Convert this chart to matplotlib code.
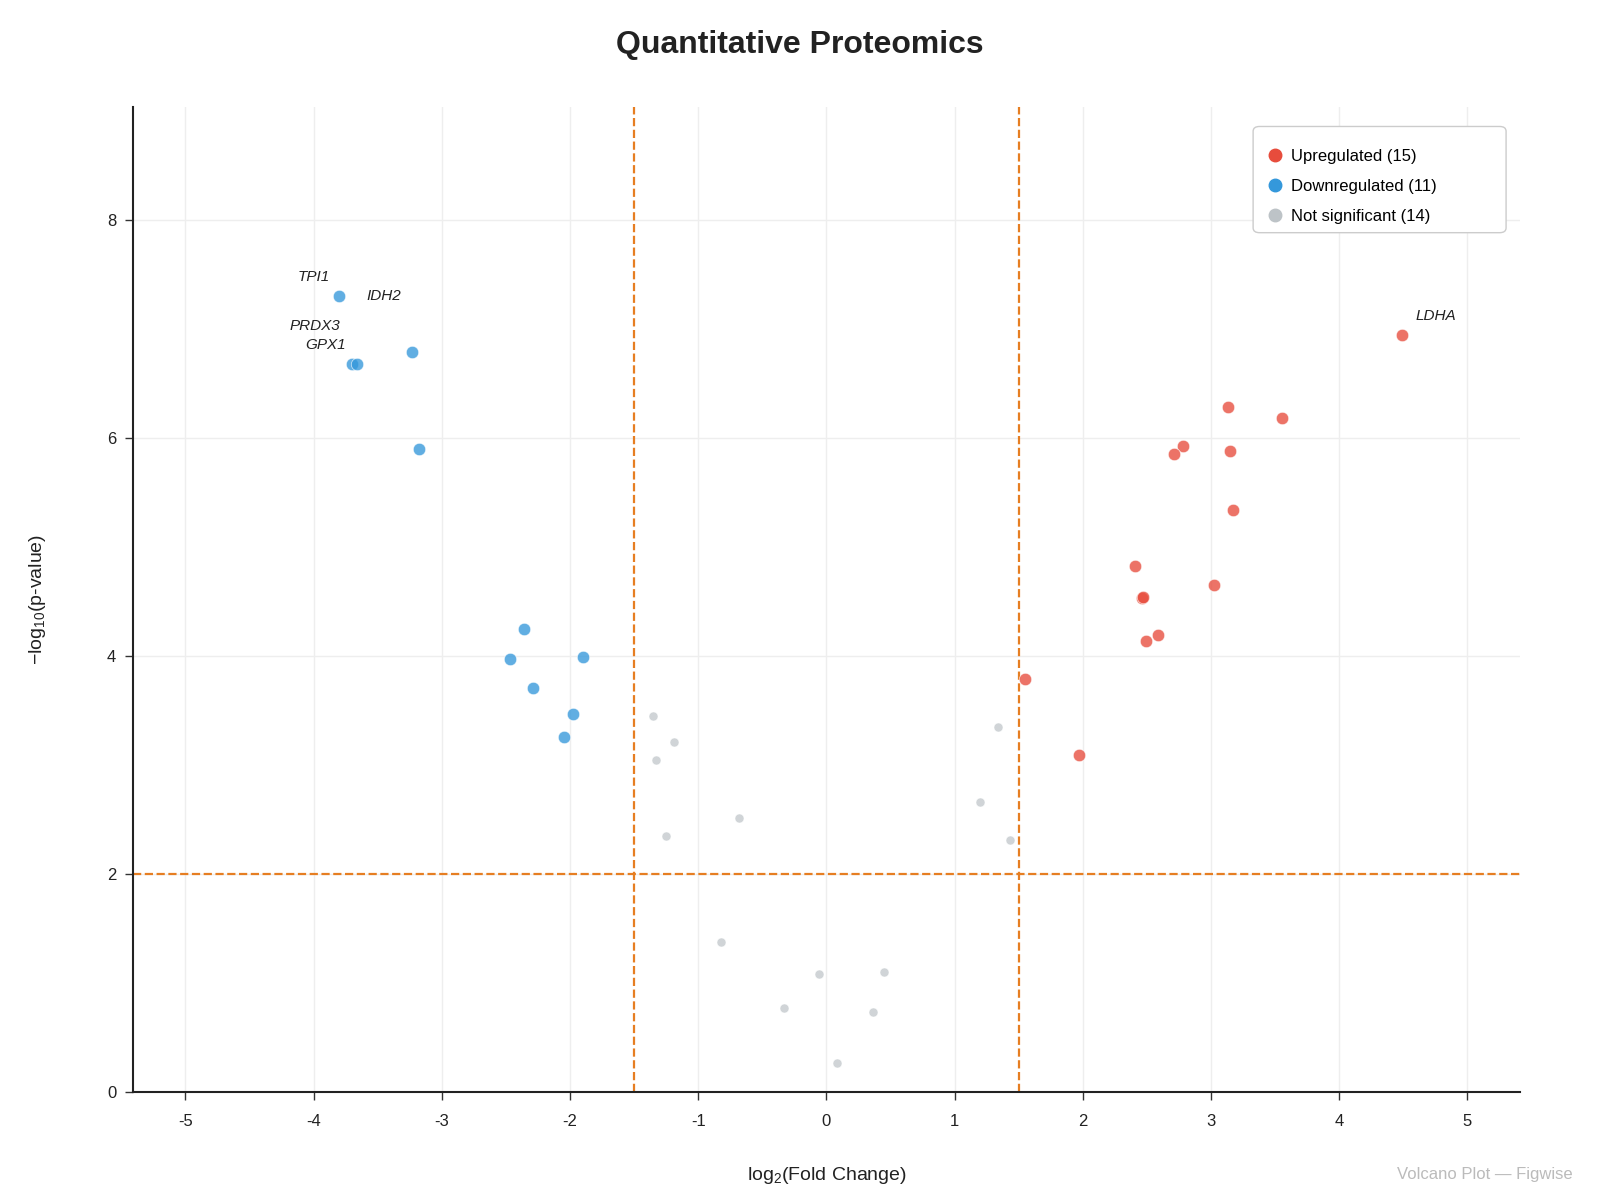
import matplotlib
matplotlib.use("Agg")
import matplotlib.pyplot as plt
from matplotlib.lines import Line2D
from matplotlib.patches import FancyBboxPatch

plt.rcParams["font.family"] = ["Liberation Sans", "DejaVu Sans"]
plt.rcParams["mathtext.default"] = "regular"
plt.rcParams["axes.unicode_minus"] = False

# values
up_fc = [4.49, 3.13, 3.55, 2.78, 2.71, 3.15, 3.17, 2.41, 3.02, 2.46, 2.59, 2.49, 1.55, 1.97, 2.47]
up_p = [6.95, 6.29, 6.18, 5.93, 5.85, 5.88, 5.34, 4.83, 4.65, 4.53, 4.19, 4.14, 3.79, 3.09, 4.54]

down_fc = [-3.80, -3.23, -3.70, -3.66, -3.18, -2.36, -2.47, -1.90, -2.29, -1.98, -2.05]
down_p = [7.30, 6.79, 6.68, 6.68, 5.90, 4.25, 3.97, 3.99, 3.71, 3.47, 3.26]

ns_fc = [-1.35, -1.19, -1.33, -0.68, -1.25, 1.34, 1.20, 1.43, -0.82, -0.06, 0.45, -0.33, 0.36, 0.08]
ns_p = [3.45, 3.21, 3.05, 2.51, 2.35, 3.35, 2.66, 2.31, 1.38, 1.08, 1.10, 0.77, 0.73, 0.27]

genes = ["TPI1", "IDH2", "PRDX3", "GPX1", "LDHA"]
gene_xy = [(-3.80, 7.30), (-3.23, 6.79), (-3.70, 6.68), (-3.66, 6.68), (4.49, 6.95)]
label_xy = [(-4.00, 7.48), (-3.45, 7.30), (-3.99, 7.03), (-3.91, 6.85), (4.75, 7.12)]

fc_cut = 1.5
p_cut = 2.0

red = "#E74C3C"
blue = "#3498DB"
grey = "#BDC3C7"
orange = "#E67E22"

fig = plt.figure(figsize=(16, 12), dpi=100)
ax = fig.add_axes([0.083, 0.090, 0.867, 0.821])

ax.scatter(ns_fc, ns_p, s=42, color=grey, alpha=0.7, edgecolors="white", linewidths=0.5, zorder=3)
ax.scatter(down_fc, down_p, s=80, color=blue, alpha=0.78, edgecolors="white", linewidths=0.5, zorder=3)
ax.scatter(up_fc, up_p, s=80, color=red, alpha=0.78, edgecolors="white", linewidths=0.5, zorder=3)

ax.axvline(-fc_cut, color=orange, ls="--", lw=1.6, zorder=2)
ax.axvline(fc_cut, color=orange, ls="--", lw=1.6, zorder=2)
ax.axhline(p_cut, color=orange, ls="--", lw=1.6, zorder=2)

for g, pt, lp in zip(genes, gene_xy, label_xy):
    ax.annotate(g, xy=pt, xytext=lp, ha="center", va="center",
                fontsize=11, fontstyle="italic", color="#222222")

ax.set_xlim(-5.41, 5.41)
ax.set_ylim(0, 9.04)
ax.set_xticks(range(-5, 6))
ax.set_yticks([0, 2, 4, 6, 8])
ax.grid(True, color="#EEEEEE", lw=1.0, zorder=0)
ax.set_axisbelow(True)
for s in ["top", "right"]:
    ax.spines[s].set_visible(False)
for s in ["left", "bottom"]:
    ax.spines[s].set_color("#222222")
    ax.spines[s].set_linewidth(1.5)
ax.tick_params(labelsize=12, length=6, width=1.0, color="#333333", labelcolor="#222222")
ax.tick_params(axis="x", pad=10)
ax.tick_params(axis="y", pad=6)

ax.set_xlabel(r"log$_2$(Fold Change)", fontsize=14, labelpad=26, color="#222222")
ax.set_ylabel(r"−log$_{10}$(p-value)", fontsize=14, labelpad=42, color="#222222")

# legend: rounded box drawn by hand, entries without frame
box = FancyBboxPatch((0.7832, 0.8061), 0.9413 - 0.7832, 0.8946 - 0.8061,
                     boxstyle="round,pad=0,rounding_size=0.004", transform=fig.transFigure,
                     facecolor="white", edgecolor="#CCCCCC", linewidth=1.0, zorder=5)
fig.patches.append(box)

handles = [
    Line2D([], [], marker="o", ls="", color=red, markersize=9, label=f"Upregulated ({len(up_fc)})"),
    Line2D([], [], marker="o", ls="", color=blue, markersize=9, label=f"Downregulated ({len(down_fc)})"),
    Line2D([], [], marker="o", ls="", color=grey, markersize=9, label=f"Not significant ({len(ns_fc)})"),
]
leg = fig.legend(handles=handles, loc="center left", bbox_to_anchor=(0.7921, 0.8448), fontsize=12,
                 frameon=False, borderpad=0, borderaxespad=0, labelspacing=0.9,
                 handletextpad=0.5, handlelength=0.9)
leg.set_zorder(6)

fig.suptitle("Quantitative Proteomics", fontsize=23, fontweight="bold", y=0.975, color="#222222")
fig.text(0.983, 0.021, "Volcano Plot — Figwise", ha="right", va="center", fontsize=12, color="#BBBBBB")

fig.savefig("out.png", dpi=100)
